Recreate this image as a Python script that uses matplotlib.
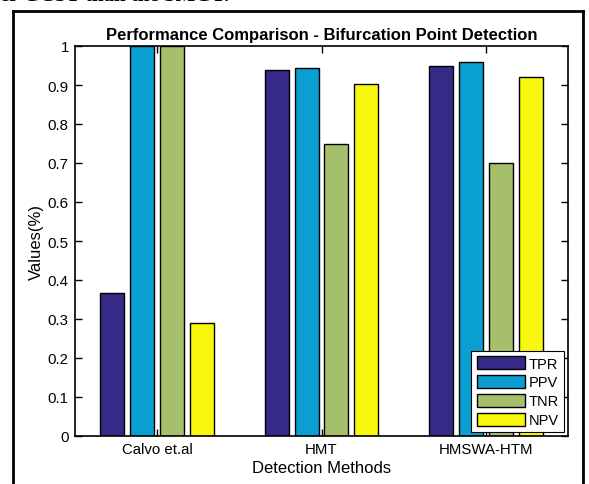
import matplotlib.pyplot as plt
import numpy as np
from matplotlib.lines import Line2D

plt.rcParams['font.family'] = ['Liberation Sans', 'DejaVu Sans']

methods = ['Calvo et.al', 'HMT', 'HMSWA-HTM']
metrics = ['TPR', 'PPV', 'TNR', 'NPV']
tpr = [0.367, 0.939, 0.950]
ppv = [1.0, 0.944, 0.960]
tnr = [1.0, 0.750, 0.700]
npv = [0.289, 0.903, 0.920]
colors = ['#352A87', '#0A9FD1', '#A6BF6A', '#F8F80E']

fig = plt.figure(figsize=(5.89, 4.85), dpi=100)
ax = fig.add_axes([75 / 589, 1 - 437 / 485, 493 / 589, 390 / 485])

x = np.arange(1, len(methods) + 1)
slot = 0.727 / 4
width = slot * 0.8
for i, (name, vals) in enumerate(zip(metrics, [tpr, ppv, tnr, npv])):
    ax.bar(x + (i - 1.5) * slot, vals, width, color=colors[i], edgecolor='black',
           linewidth=1.0, label=name, zorder=3)

ax.set_xlim(0.5, 3.5)
ax.set_ylim(0, 1)
ax.set_xticks(x)
ax.set_xticklabels(methods, fontsize=10.8)
ax.set_yticks(np.arange(0, 1.01, 0.1))
ax.set_yticklabels(['0', '0.1', '0.2', '0.3', '0.4', '0.5', '0.6', '0.7', '0.8', '0.9', '1'], fontsize=10.8)
ax.tick_params(direction='in', top=True, right=True, length=5, width=1, pad=4.5)
for s in ax.spines.values():
    s.set_linewidth(1.2)
    s.set_zorder(4)

ax.set_title('Performance Comparison - Bifurcation Point Detection', fontsize=12,
             fontweight='bold', pad=5)
ax.set_xlabel('Detection Methods', fontsize=12, labelpad=3)
ax.set_ylabel('Values(%)', fontsize=12, labelpad=3)

leg = ax.legend(loc='lower right', fontsize=10.5, handlelength=3.3, handleheight=1.0,
                handletextpad=0.3, labelspacing=0.3, borderaxespad=0.25,
                fancybox=False, framealpha=1, edgecolor='black', borderpad=0.35)
leg.get_frame().set_linewidth(0.8)

# frame around the figure and the cut-off text above it
W, H = 589, 485
lw = 2.0
fig.add_artist(Line2D([13 / W, 13 / W], [0, 1 - 12 / H], color='black', lw=lw))
fig.add_artist(Line2D([13 / W, 583 / W], [1 - 12 / H, 1 - 12 / H], color='black', lw=lw))
fig.add_artist(Line2D([583 / W, 583 / W], [0, 1 - 12 / H], color='black', lw=lw))
fig.text(0.0, 1.0 + 4 / H, 'er GCST than the SMGT.', ha='left', va='center',
         fontsize=15, fontweight='bold', family=['Liberation Serif', 'DejaVu Serif'])

fig.savefig('out.png', dpi=100)
